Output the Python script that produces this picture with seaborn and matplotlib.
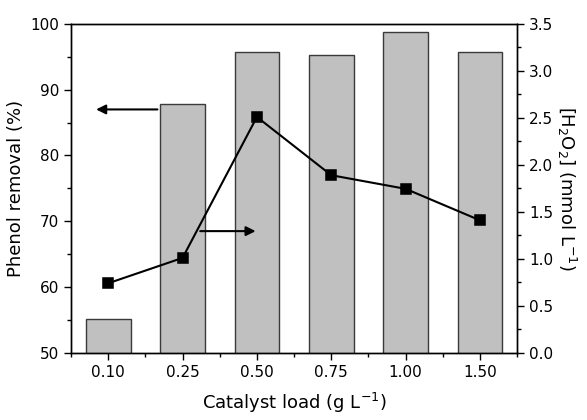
import matplotlib
matplotlib.use("Agg")
import matplotlib.pyplot as plt
import seaborn as sns
import pandas as pd
from matplotlib.ticker import MultipleLocator

categories = ["0.10", "0.25", "0.50", "0.75", "1.00", "1.50"]
phenol_removal = [55.1, 87.9, 95.7, 95.3, 98.7, 95.8]
h2o2 = [0.74, 1.01, 2.51, 1.89, 1.745, 1.41]

df = pd.DataFrame({"load": categories, "removal": phenol_removal, "h2o2": h2o2})

sns.set_style("ticks")
plt.rcParams['font.family'] = ['DejaVu Sans']
plt.rcParams['mathtext.default'] = 'regular'
plt.rcParams['text.color'] = 'black'
plt.rcParams['axes.labelcolor'] = 'black'
plt.rcParams['xtick.color'] = 'black'
plt.rcParams['ytick.color'] = 'black'

fig, ax = plt.subplots(figsize=(5.87, 4.2), dpi=100)
fig.subplots_adjust(left=0.121, right=0.881, top=0.943, bottom=0.16)

sns.barplot(data=df, x="load", y="removal", ax=ax, color="#c0c0c0",
            edgecolor="#3a3a3a", linewidth=1.0, width=0.6, saturation=1)
ax.set_ylim(50, 100)
ax.set_xlim(-0.5, 5.5)
ax.yaxis.set_major_locator(MultipleLocator(10))
ax.yaxis.set_minor_locator(MultipleLocator(5))
ax.xaxis.set_minor_locator(MultipleLocator(0.5))
ax.set_xticks(range(len(categories)))
ax.set_xticklabels(categories)
ax.set_xlabel("Catalyst load (g L$^{-1}$)", fontsize=13, labelpad=8)
ax.set_ylabel("Phenol removal (%)", fontsize=13)
ax.tick_params(axis='both', which='major', direction='out', length=5, labelsize=11, width=1)
ax.tick_params(axis='both', which='minor', direction='out', length=3, width=1)
for s in ax.spines.values():
    s.set_linewidth(1.0)
    s.set_color("black")

ax2 = ax.twinx()
sns.pointplot(data=df, x="load", y="h2o2", ax=ax2, color="black",
              markers="s", linestyles="-", markersize=7, linewidth=1.5)
ax2.set_ylim(0, 3.5)
ax2.set_xlim(-0.5, 5.5)
ax2.yaxis.set_major_locator(MultipleLocator(0.5))
ax2.yaxis.set_minor_locator(MultipleLocator(0.25))
ax2.set_ylabel("[H$_2$O$_2$] (mmol L$^{-1}$)", fontsize=13, rotation=270, labelpad=18)
ax2.set_xlabel("")
ax2.tick_params(axis='y', which='major', direction='out', length=5, labelsize=11, width=1)
ax2.tick_params(axis='y', which='minor', direction='out', length=3, width=1)
for s in ax2.spines.values():
    s.set_linewidth(1.0)
    s.set_color("black")

# arrows indicating axes
ax.annotate("", xy=(-0.2, 87), xytext=(0.7, 87),
            arrowprops=dict(arrowstyle="-|>", color="black", lw=1.5, mutation_scale=14))
ax.annotate("", xy=(2.02, 68.5), xytext=(1.2, 68.5),
            arrowprops=dict(arrowstyle="-|>", color="black", lw=1.5, mutation_scale=14))

fig.savefig("out.png", dpi=100)
